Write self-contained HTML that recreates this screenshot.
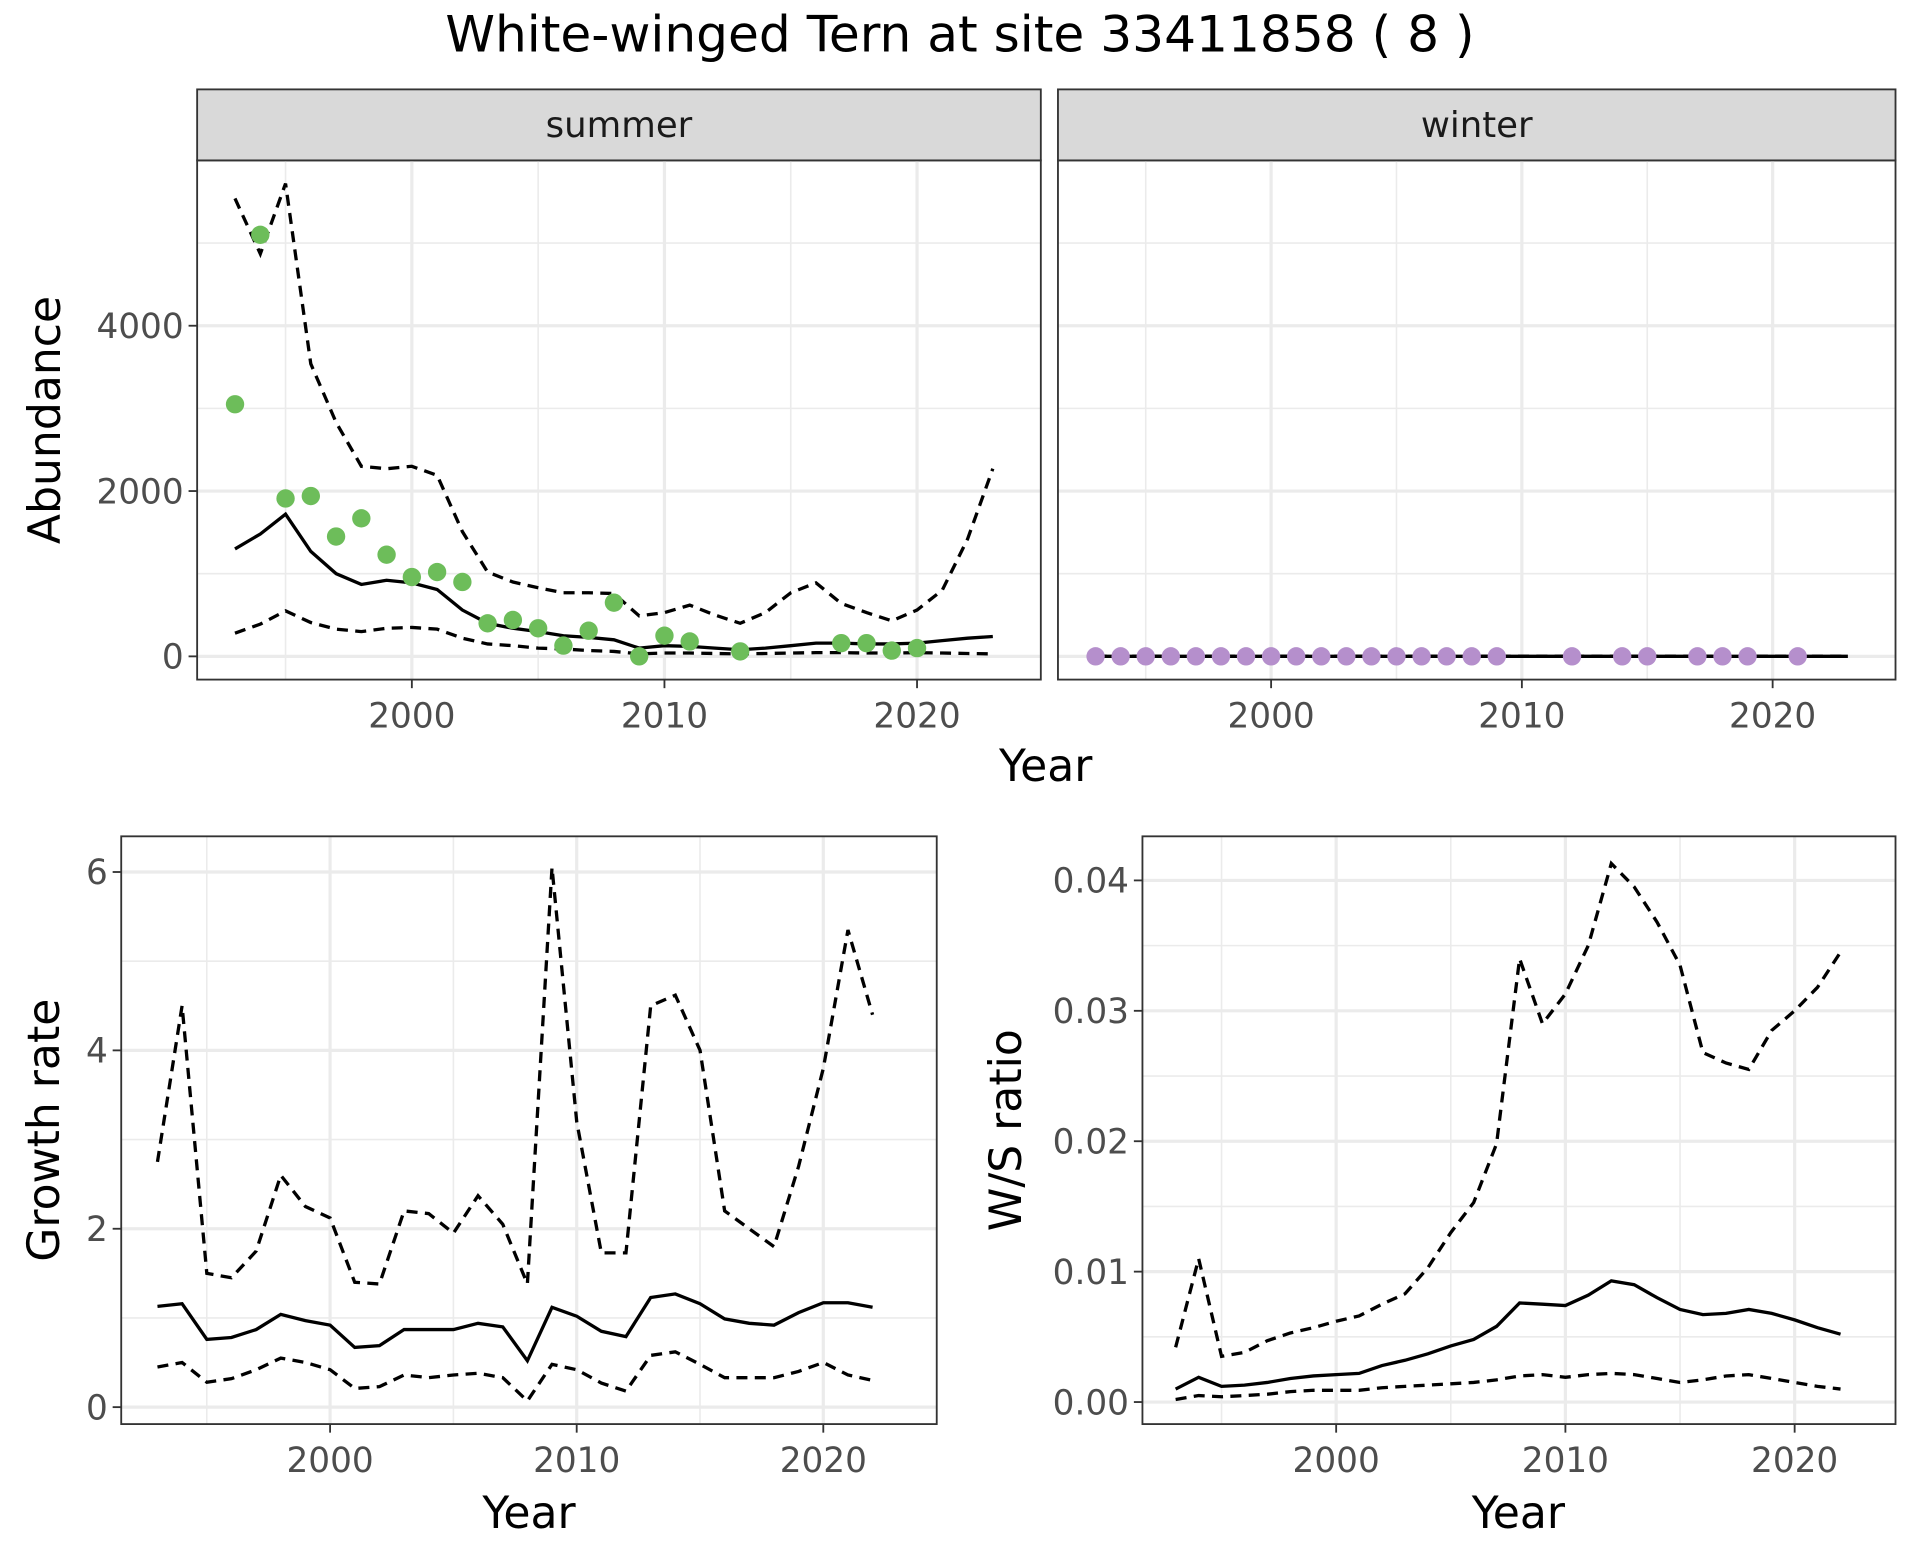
<!DOCTYPE html>
<html><head><meta charset="utf-8"><style>
html,body{margin:0;padding:0;background:#fff}
svg{display:block;font-family:"DejaVu Sans","Liberation Sans",sans-serif}
</style></head><body>
<svg id="c" width="1920" height="1560" viewBox="0 0 1568 1274" xmlns="http://www.w3.org/2000/svg">
<text x="784" y="42" text-anchor="middle" font-size="41">White-winged Tern at site 33411858 ( 8 )</text>
</svg>
<script>
const years=[1993,1994,1995,1996,1997,1998,1999,2000,2001,2002,2003,2004,2005,2006,2007,2008,2009,2010,2011,2012,2013,2014,2015,2016,2017,2018,2019,2020,2021,2022,2023];
const sumMean=[1300,1480,1720,1270,1000,870,920,890,810,560,400,340,300,250,230,200,100,130,120,100,80,100,130,160,160,150,150,160,190,220,240];
const sumUpper=[5540,4870,5720,3540,2830,2300,2270,2300,2190,1510,1020,900,830,770,770,760,490,530,620,500,400,530,770,890,640,530,430,560,800,1420,2270];
const sumLower=[280,390,550,410,330,300,340,350,330,220,150,130,100,90,70,60,30,40,40,35,30,35,40,45,45,40,40,45,40,35,30];
const sumObsYears=[1993,1994,1995,1996,1997,1998,1999,2000,2001,2002,2003,2004,2005,2006,2007,2008,2009,2010,2011,2013,2017,2018,2019,2020];
const sumObs=[3050,5100,1910,1940,1450,1670,1230,960,1020,900,400,440,340,130,310,650,0,250,180,60,160,160,70,100];
const winMean=years.map(()=>0);
const winObsYears=[1993,1994,1995,1996,1997,1998,1999,2000,2001,2002,2003,2004,2005,2006,2007,2008,2009,2012,2014,2015,2017,2018,2019,2021];
const winObs=winObsYears.map(()=>0);
const grYears=years.slice(0,30);
const grMean=[1.13,1.16,0.76,0.78,0.87,1.04,0.97,0.92,0.67,0.69,0.87,0.87,0.87,0.94,0.90,0.52,1.12,1.02,0.85,0.79,1.23,1.27,1.16,0.99,0.94,0.92,1.06,1.17,1.17,1.12];
const grUpper=[2.75,4.5,1.5,1.45,1.75,2.6,2.25,2.12,1.4,1.38,2.2,2.17,1.95,2.37,2.05,1.38,6.05,3.2,1.73,1.73,4.5,4.62,4.0,2.2,2.0,1.8,2.7,3.8,5.35,4.4];
const grLower=[0.45,0.5,0.28,0.32,0.42,0.55,0.5,0.42,0.21,0.23,0.36,0.33,0.36,0.38,0.33,0.07,0.48,0.42,0.27,0.18,0.58,0.62,0.48,0.33,0.33,0.33,0.4,0.5,0.36,0.3];
const wsMean=[0.001,0.0019,0.0012,0.0013,0.0015,0.0018,0.002,0.0021,0.0022,0.0028,0.0032,0.0037,0.0043,0.0048,0.0058,0.0076,0.0075,0.0074,0.0082,0.0093,0.009,0.008,0.0071,0.0067,0.0068,0.0071,0.0068,0.0063,0.0057,0.0052];
const wsUpper=[0.0042,0.011,0.0035,0.0038,0.0047,0.0053,0.0057,0.0062,0.0066,0.0075,0.0083,0.0103,0.013,0.0153,0.0198,0.034,0.029,0.0313,0.035,0.0413,0.0395,0.0368,0.0335,0.0268,0.026,0.0255,0.0285,0.03,0.0318,0.0345];
const wsLower=[0.0002,0.0005,0.0004,0.0005,0.0006,0.0008,0.0009,0.0009,0.0009,0.0011,0.0012,0.0013,0.0014,0.0015,0.0017,0.002,0.0021,0.0019,0.0021,0.0022,0.0021,0.0018,0.0015,0.0017,0.002,0.0021,0.0018,0.0015,0.0012,0.001];
const xTicks=[2000,2010,2020];
const xMinor=[1995,2005,2015];

const svg=document.getElementById('c');
const NS='http://www.w3.org/2000/svg';
function mk(tag,attrs,parent){const e=document.createElementNS(NS,tag);for(const k in attrs)e.setAttribute(k,attrs[k]);(parent||svg).appendChild(e);return e;}

function panel(o){
  const g=mk('g',{});
  
  
  const sx=v=>o.x0+(v-o.xmin)/(o.xmax-o.xmin)*(o.x1-o.x0);
  const sy=v=>o.y1-(v-o.ymin)/(o.ymax-o.ymin)*(o.y1-o.y0);
  if(o.strip){
    const s=mk('rect',{x:o.x0,y:o.y0-58,width:o.x1-o.x0,height:58,fill:'#d9d9d9',stroke:'#333','stroke-width':1.5},g);
    
    
    const st=mk('text',{x:(o.x0+o.x1)/2,y:o.y0-19,'text-anchor':'middle','font-size':29,fill:'#1a1a1a'},g);
    st.textContent=o.strip;
    
    
  }
  const cp='cp'+o.name;
  const cl=mk('clipPath',{id:cp},g);mk('rect',{x:o.x0,y:o.y0,width:o.x1-o.x0,height:o.y1-o.y0},cl);
  xMinor.forEach(v=>mk('line',{x1:sx(v),x2:sx(v),y1:o.y0,y2:o.y1,stroke:'#ebebeb','stroke-width':1.3},g));
  o.yMinor.forEach(v=>mk('line',{x1:o.x0,x2:o.x1,y1:sy(v),y2:sy(v),stroke:'#ebebeb','stroke-width':1.3},g));
  xTicks.forEach(v=>{
    mk('line',{x1:sx(v),x2:sx(v),y1:o.y0,y2:o.y1,stroke:'#ebebeb','stroke-width':2.6},g);
    mk('line',{x1:sx(v),x2:sx(v),y1:o.y1,y2:o.y1+7,stroke:'#333','stroke-width':1.5},g);
    const t=mk('text',{x:sx(v),y:o.y1+39,'text-anchor':'middle','font-size':28,fill:'#4d4d4d'},g);t.textContent=v;
    
    
  });
  o.yTicks.forEach((v,i)=>{
    mk('line',{x1:o.x0,x2:o.x1,y1:sy(v),y2:sy(v),stroke:'#ebebeb','stroke-width':2.6},g);
    if(o.yLabels){
      mk('line',{x1:o.x0-7,x2:o.x0,y1:sy(v),y2:sy(v),stroke:'#333','stroke-width':1.5},g);
      const t=mk('text',{x:o.x0-11,y:sy(v)+10,'text-anchor':'end','font-size':28,fill:'#4d4d4d'},g);t.textContent=o.yLabels[i];
      
      
    }
  });
  const cg=mk('g',{'clip-path':'url(#'+cp+')'},g);
  const line=(xs,ys,dash,name)=>{const p=mk('path',{d:xs.map((x,i)=>(i?'L':'M')+sx(x).toFixed(1)+','+sy(ys[i]).toFixed(1)).join(''),fill:'none',stroke:'#000','stroke-width':2.7,'stroke-dasharray':dash?'9 6':'none'},cg);
    
    };
  if(o.upper)line(o.lx,o.upper,true,'upper-ci-line');
  if(o.lower)line(o.lx,o.lower,true,'lower-ci-line');
  line(o.lx,o.mean,false,'mean-line');
  if(o.px)o.px.forEach((x,i)=>{const c=mk('circle',{cx:sx(x),cy:sy(o.py[i]),r:7.5,fill:o.pc},cg);
    
    });
  mk('rect',{x:o.x0,y:o.y0,width:o.x1-o.x0,height:o.y1-o.y0,fill:'none',stroke:'#333','stroke-width':1.5},g);
}
panel({name:'summer-panel',strip:'summer',x0:161,x1:850,y0:131,y1:555,xmin:1991.5,xmax:2024.9,ymin:-281,ymax:6000,yTicks:[0,2000,4000],yLabels:['0','2000','4000'],yMinor:[1000,3000,5000],lx:years,mean:sumMean,upper:sumUpper,lower:sumLower,px:sumObsYears,py:sumObs,pc:'#6dbd5a'});
panel({name:'winter-panel',strip:'winter',x0:864,x1:1548,y0:131,y1:555,xmin:1991.5,xmax:2024.9,ymin:-281,ymax:6000,yTicks:[0,2000,4000],yMinor:[1000,3000,5000],lx:years,mean:winMean,upper:winMean,lower:winMean,px:winObsYears,py:winObs,pc:'#b58fcc'});
panel({name:'growth-rate-panel',x0:99,x1:765,y0:683,y1:1163,xmin:1991.53,xmax:2024.6,ymin:-0.19,ymax:6.4,yTicks:[0,2,4,6],yLabels:['0','2','4','6'],yMinor:[1,3,5],lx:grYears,mean:grMean,upper:grUpper,lower:grLower});
panel({name:'ws-ratio-panel',x0:933,x1:1548,y0:683,y1:1163,xmin:1991.55,xmax:2024.4,ymin:-0.00169,ymax:0.04338,yTicks:[0,0.01,0.02,0.03,0.04],yLabels:['0.00','0.01','0.02','0.03','0.04'],yMinor:[0.005,0.015,0.025,0.035],lx:grYears,mean:wsMean,upper:wsUpper,lower:wsLower});
function label(txt,x,y,rot,name){const t=mk('text',{x:x,y:y,'text-anchor':'middle','font-size':36,transform:rot?`rotate(-90 ${x} ${y})`:''});t.textContent=txt;
  
  }
label('Year',854,638,false,'top-x-axis-title');
label('Abundance',49,343,true,'abundance-axis-title');
label('Year',432,1248,false,'growth-x-axis-title');
label('Growth rate',48,923,true,'growth-y-axis-title');
label('Year',1240,1248,false,'ws-x-axis-title');
label('W/S ratio',834,923,true,'ws-y-axis-title');
</script>
</body></html>
